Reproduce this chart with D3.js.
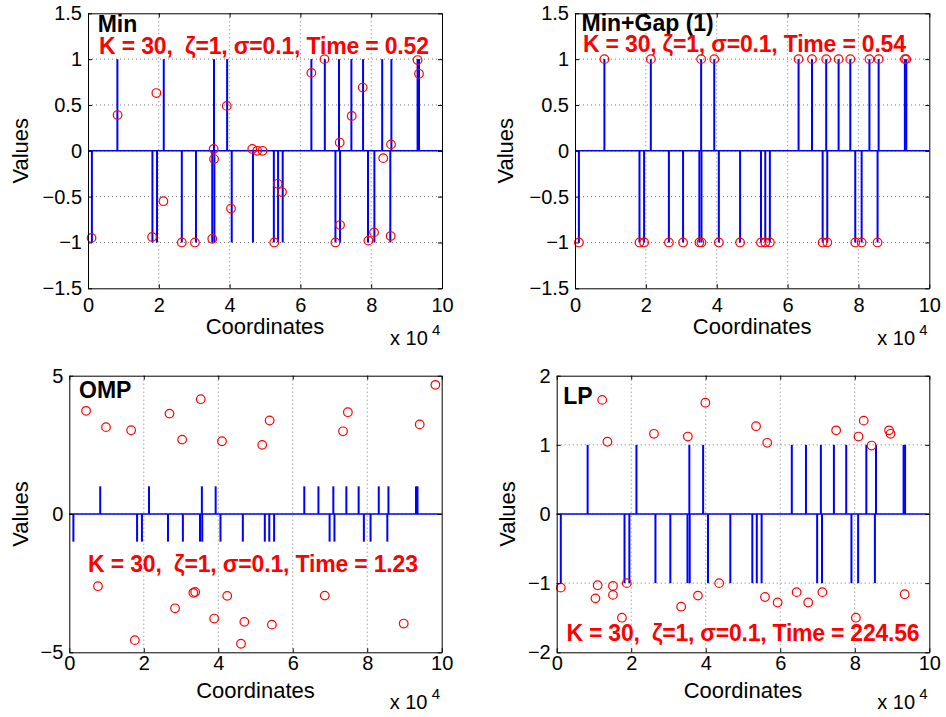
<!DOCTYPE html>
<html>
<head>
<meta charset="utf-8">
<script src="https://cdn.jsdelivr.net/npm/d3@7"></script>
<style>
  body { margin: 0; background: #fff; }
  svg { font-family: "Liberation Sans", Arial, Helvetica, sans-serif; }
</style>
</head>
<body>
<svg id="chart" width="946" height="717"></svg>
<script>
// true sparse signal (coordinate, value)
const trueX = [1100, 8300, 18200, 19500, 21400, 26500, 30500, 35100, 35600, 35700,
  39300, 40600, 46600, 52500, 53700, 55000, 63100, 66900, 69900, 70900,
  71200, 74400, 77700, 79100, 80900, 83100, 85400, 85700, 93100, 93500];
const trueY = [-1, 1, -1, -1, 1, -1, -1, -1, 1, -1,
  1, -1, -1, -1, -1, -1, 1, 1, -1, 1,
  -1, 1, 1, -1, -1, 1, -1, 1, 1, 1];

// estimates
const minX = [8350, 19300, 35500, 35600, 39200, 46400, 47800, 49300, 63100, 66800, 71100, 74500,
  77600, 85600, 93100, 93500, 83400, 1000, 18100, 21300, 26500, 30200, 35100, 40400,
  52600, 53600, 54800, 69900, 71200, 79200, 80800, 85500];
const minY = [0.39, 0.63, 0.02, -0.09, 0.49, 0.02, 0.0, 0.0, 0.85, 1.0, 0.09, 0.38,
  0.69, 0.07, 0.99, 0.84, -0.08, -0.95, -0.94, -0.55, -1.0, -1.0, -0.96, -0.63,
  -1.0, -0.36, -0.45, -1.0, -0.81, -0.98, -0.89, -0.93];

const gapX = trueX.slice();
const gapY = [-1, 1, -1, -1, 1, -1, -1, -1, 1, -1,
  1, -1, -1, -1, -1, -1, 1, 1, -1, 1,
  -1, 1, 1, -1, -1, 1, -1, 1, 1, 1];

const ompX = [4500, 9850, 16600, 26900, 30300, 35300, 41000, 51800, 53800, 73500, 74800, 94100, 98300,
  7700, 17600, 28400, 33300, 33800, 38900, 42400, 46100, 47000, 54400, 68600, 89800];
const ompY = [3.73, 3.14, 3.03, 3.63, 2.69, 4.15, 2.63, 2.50, 3.38, 2.99, 3.68, 3.24, 4.67,
  -2.61, -4.56, -3.41, -2.85, -2.82, -3.78, -2.96, -4.69, -3.90, -4.0, -2.95, -3.96];

const lpX = [12200, 13600, 26100, 35200, 39900, 53500, 56500, 75000, 81000, 82400, 84500, 89200, 89600,
  1100, 10400, 11000, 15100, 15100, 17500, 18800, 33400, 37900, 43600, 55900, 59300, 64400, 67500,
  71300, 80300, 93400];
const lpY = [1.65, 1.045, 1.16, 1.12, 1.61, 1.27, 1.03, 1.21, 1.12, 1.35, 0.99, 1.21, 1.16,
  -1.065, -1.22, -1.03, -1.04, -1.17, -1.50, -1.0, -1.34, -1.18, -1.0, -1.20, -1.28, -1.13, -1.28,
  -1.13, -1.50, -1.16];

const xTicks = [0, 20000, 40000, 60000, 80000, 100000];
const yTicksMin = [-1.5, -1, -0.5, 0, 0.5, 1, 1.5];
const yTicksOmp = [-5, 0, 5];
const yTicksLp = [-2, -1, 0, 1, 2];

const titles = ["Min", "Min+Gap (1)", "OMP", "LP"];
const times = ["0.52", "0.54", "1.23", "224.56"];
const kLabel = "K = 30,", zeta = "\u03b6=1,", sigma = "\u03c3=0.1,";

const svg = d3.select("#chart");
const fmt = d => (d < 0 ? "\u2212" : "") + Math.abs(d);

const panels = [
  {l: 88, r: 442, t: 13.3, b: 288.3, ydom: [-1.5, 1.5], yt: yTicksMin, ex: minX, ey: minY,
   pad: 10, ylab: 60, tx: 97.7, ty: 32.3, sx: 99, sy: 54, sw: 330, sp: "  ", i: 0},
  {l: 575, r: 929.3, t: 13.3, b: 288.3, ydom: [-1.5, 1.5], yt: yTicksMin, ex: gapX, ey: gapY,
   pad: 10, ylab: 62, tx: 581.5, ty: 31, sx: 583, sy: 51.5, sw: 323, sp: " ", i: 1},
  {l: 69.3, r: 441.7, t: 375.7, b: 652.3, ydom: [-5, 5], yt: yTicksOmp, ex: ompX, ey: ompY,
   pad: 3, ylab: 41, tx: 79, ty: 397.7, sx: 88, sy: 572.3, sw: 330, sp: "  ", i: 2},
  {l: 556.7, r: 929.3, t: 375.7, b: 652.3, ydom: [-2, 2], yt: yTicksLp, ex: lpX, ey: lpY,
   pad: 3, ylab: 42, tx: 563.3, ty: 404.3, sx: 566.5, sy: 640.7, sw: 353, sp: "  ", i: 3}
];

panels.forEach(p => {
  const x = d3.scaleLinear().domain([0, 100000]).range([p.l, p.r]);
  const y = d3.scaleLinear().domain(p.ydom).range([p.b, p.t]);
  const g = svg.append("g");

  // dotted grid
  g.selectAll(".gx").data(xTicks.slice(1, -1)).enter().append("line")
    .attr("x1", d => x(d)).attr("x2", d => x(d))
    .attr("y1", p.t).attr("y2", p.b)
    .attr("stroke", "#555").attr("stroke-width", 0.8).attr("stroke-dasharray", "1,3");
  g.selectAll(".gy").data(p.yt.slice(1, -1)).enter().append("line")
    .attr("x1", p.l).attr("x2", p.r)
    .attr("y1", d => y(d)).attr("y2", d => y(d))
    .attr("stroke", "#555").attr("stroke-width", 0.8).attr("stroke-dasharray", "1,3");

  // stems of the true signal
  g.selectAll(".stem").data(trueX).enter().append("line")
    .attr("x1", d => x(d)).attr("x2", d => x(d))
    .attr("y1", y(0)).attr("y2", (d, k) => y(trueY[k]))
    .attr("stroke", "#0000ff").attr("stroke-width", 2);
  g.append("line")
    .attr("x1", p.l).attr("x2", p.r).attr("y1", y(0)).attr("y2", y(0))
    .attr("stroke", "#0000ff").attr("stroke-width", 1.5);

  // estimates
  g.selectAll(".est").data(p.ex).enter().append("circle")
    .attr("cx", d => x(d)).attr("cy", (d, k) => y(p.ey[k]))
    .attr("r", 4.3).attr("fill", "none")
    .attr("stroke", "#ff0000").attr("stroke-width", 1.2);

  // axes
  const ax = g.append("g");
  ax.append("g").attr("transform", `translate(0,${p.b})`)
    .call(d3.axisBottom(x).tickValues(xTicks).tickSize(-4).tickSizeOuter(0)
      .tickPadding(p.pad).tickFormat(d => d / 10000));
  ax.append("g").attr("transform", `translate(0,${p.t})`)
    .call(d3.axisTop(x).tickValues(xTicks).tickSize(-4).tickSizeOuter(0).tickFormat(""));
  ax.append("g").attr("transform", `translate(${p.l},0)`)
    .call(d3.axisLeft(y).tickValues(p.yt).tickSize(-4).tickSizeOuter(0)
      .tickPadding(6).tickFormat(fmt));
  ax.append("g").attr("transform", `translate(${p.r},0)`)
    .call(d3.axisRight(y).tickValues(p.yt).tickSize(-4).tickSizeOuter(0).tickFormat(""));
  ax.selectAll("g").attr("font-size", null).attr("font-family", null);
  ax.selectAll("text").attr("fill", "#000").attr("font-size", 20);
  ax.selectAll("path, line").attr("stroke", "#000");

  // labels
  g.append("text").attr("x", (p.l + p.r) / 2).attr("y", p.b + 46)
    .attr("text-anchor", "middle").attr("font-size", 22).text("Coordinates");
  g.append("text")
    .attr("transform", `translate(${p.l - p.ylab},${(p.t + p.b) / 2}) rotate(-90)`)
    .attr("text-anchor", "middle").attr("font-size", 22).text("Values");
  g.append("text").attr("x", p.r - 52).attr("y", p.b + 57).attr("font-size", 20).text("x 10");
  g.append("text").attr("x", p.r - 10).attr("y", p.b + 47).attr("font-size", 15).text("4");

  // panel title and stats
  g.append("text").attr("x", p.tx).attr("y", p.ty)
    .attr("font-size", 23).attr("font-weight", "bold").text(titles[p.i]);
  g.append("text").attr("x", p.sx).attr("y", p.sy)
    .attr("font-size", 23).attr("font-weight", "bold").attr("fill", "#ff0000")
    .style("white-space", "pre")
    .attr("textLength", p.sw)
    .text(`${kLabel}${p.sp}${zeta} ${sigma} Time = ${times[p.i]}`);
});
</script>
</body>
</html>
